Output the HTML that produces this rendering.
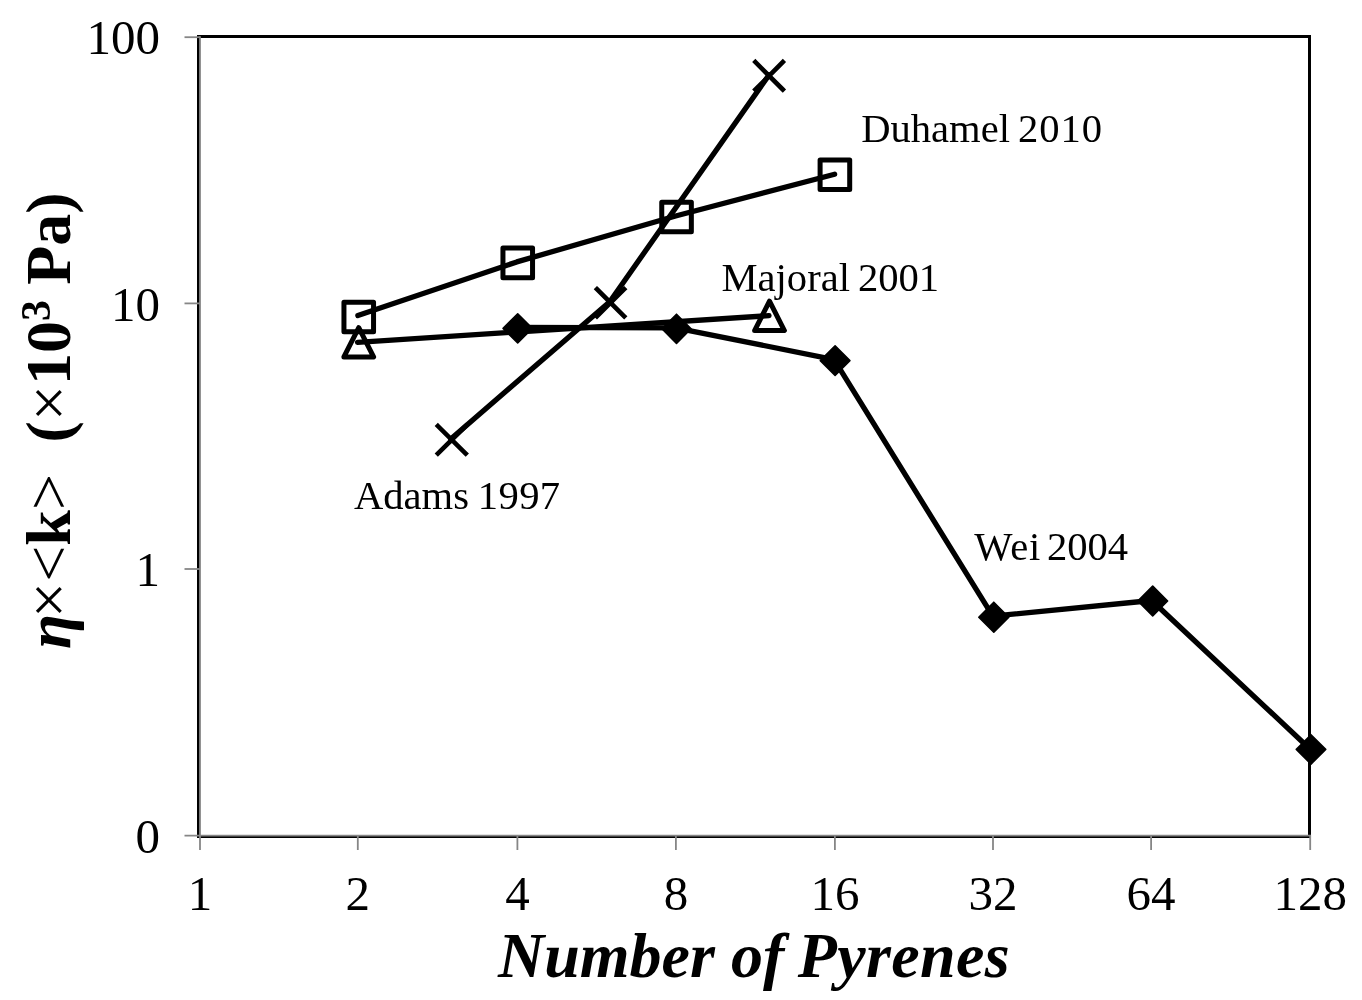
<!DOCTYPE html>
<html><head><meta charset="utf-8"><style>
html,body{margin:0;padding:0;background:#fff;}
body{width:1362px;height:1000px;overflow:hidden;}
svg{display:block;}
text{font-family:"Liberation Serif","Times New Roman",serif;fill:#000;}
</style></head><body>
<svg width="1362" height="1000" viewBox="0 0 1362 1000">
<rect x="0" y="0" width="1362" height="1000" fill="#fff"/>
<!-- plot border -->
<rect x="198.5" y="36.5" width="1111" height="800" fill="none" stroke="#000" stroke-width="3"/>
<!-- axes -->
<g stroke="#868686" stroke-width="1.8" fill="none">
<line x1="200" y1="36.3" x2="200" y2="850"/>
<line x1="184.5" y1="835.7" x2="1311" y2="835.7"/>
<line x1="184.5" y1="37.2" x2="200" y2="37.2"/>
<line x1="184.5" y1="303.4" x2="200" y2="303.4"/>
<line x1="184.5" y1="569" x2="200" y2="569"/>
<line x1="357.8" y1="835" x2="357.8" y2="850"/>
<line x1="517.4" y1="835" x2="517.4" y2="850"/>
<line x1="675.9" y1="835" x2="675.9" y2="850"/>
<line x1="834.9" y1="835" x2="834.9" y2="850"/>
<line x1="993" y1="835" x2="993" y2="850"/>
<line x1="1151.1" y1="835" x2="1151.1" y2="850"/>
<line x1="1310.2" y1="835" x2="1310.2" y2="850"/>
</g>
<!-- y tick labels -->
<g font-size="49" text-anchor="end">
<text x="160" y="54.2">100</text>
<text x="160" y="320.5">10</text>
<text x="160" y="586">1</text>
<text x="160" y="852.7">0</text>
</g>
<!-- x tick labels -->
<g font-size="49" text-anchor="middle">
<text x="200" y="909.8">1</text>
<text x="357.8" y="909.8">2</text>
<text x="517.4" y="909.8">4</text>
<text x="675.9" y="909.8">8</text>
<text x="834.9" y="909.8">16</text>
<text x="993" y="909.8">32</text>
<text x="1151.1" y="909.8">64</text>
<text x="1310.2" y="909.8">128</text>
</g>
<!-- axis titles -->
<text x="498" y="977.4" font-size="64" font-weight="bold" font-style="italic">Number of <tspan dx="-2.4" letter-spacing="0.35">Pyrenes</tspan></text>
<text transform="translate(69.5,649) rotate(-90)" font-size="64" font-weight="bold" style="white-space:pre"><tspan font-style="italic">η</tspan><tspan font-weight="normal" dx="-4">×&lt;</tspan>k<tspan font-weight="normal">&gt;</tspan>  <tspan dx="-0.4">(</tspan><tspan font-weight="normal">×</tspan>10<tspan font-size="42" dy="-20">3</tspan><tspan dy="20" dx="-0.8"> Pa)</tspan></text>
<!-- series lines -->
<g fill="none" stroke="#000" stroke-width="5.3" stroke-linejoin="round" stroke-linecap="round">
<polyline points="357.9,315.6 516.8,261.9 675.6,216 834.6,174.2"/>
<polyline points="450.8,438.9 609.8,301.7 769,74.9"/>
<polyline points="516.7,327.4 675.5,327.8 834.1,359.6 992.8,616.2 1151.7,600.5 1310.2,749.2"/>
<polyline points="357.5,342.3 769,315.7"/>
</g>
<!-- markers -->
<g fill="none" stroke="#000" stroke-width="5" stroke-linejoin="round">
<rect x="343.95" y="302.2" width="29.6" height="29.6"/>
<rect x="502.95" y="248.1" width="29.6" height="29.6"/>
<rect x="661.75" y="202.15" width="29.6" height="29.6"/>
<rect x="820.1" y="160" width="29.6" height="29.6"/>
<path d="M358.75,327.7 L373.6,356.9 L343.9,356.9 Z"/>
<path d="M769.5,301.2 L784.4,330.6 L754.6,330.6 Z"/>
</g>
<g fill="none" stroke="#000" stroke-width="4.6" stroke-linecap="square">
<path d="M437.9,426.1 L465.7,453.6 M465.7,426.1 L437.9,453.6"/>
<path d="M597,289.2 L624.2,316.3 M624.2,289.2 L597,316.3"/>
<path d="M755.4,62.1 L782.8,89.5 M782.8,62.1 L755.4,89.5"/>
</g>
<g fill="#000" stroke="#000" stroke-width="1.6" stroke-linejoin="round">
<path d="M517.7,313.8 L532.3,328.4 L517.7,343.0 L503.1,328.4 Z"/>
<path d="M676.5,314.2 L691.1,328.8 L676.5,343.4 L661.9,328.8 Z"/>
<path d="M835.1,345.8 L849.9,360.6 L835.1,375.4 L820.3,360.6 Z"/>
<path d="M993.8,602.2 L1008.8,617.2 L993.8,632.2 L978.8,617.2 Z"/>
<path d="M1152.7,586.1 L1167.6,601.0 L1152.7,615.9 L1137.8,601.0 Z"/>
<path d="M1311.0,734.7 L1325.7,749.4 L1311.0,764.1 L1296.3,749.4 Z"/>
</g>
<!-- series labels -->
<g font-size="40.6">
<text x="861.2" y="141.6">Duhamel</text><text x="1018" y="141.6" letter-spacing="1">2010</text>
<text x="721.5" y="291.4">Majoral</text><text x="858" y="291.4">2001</text>
<text x="354" y="508.5">Adams</text><text x="477.8" y="508.5" letter-spacing="0.4">1997</text>
<text x="974.3" y="560.3" letter-spacing="0.8">Wei</text><text x="1047" y="560.3">2004</text>
</g>
</svg>
</body></html>
